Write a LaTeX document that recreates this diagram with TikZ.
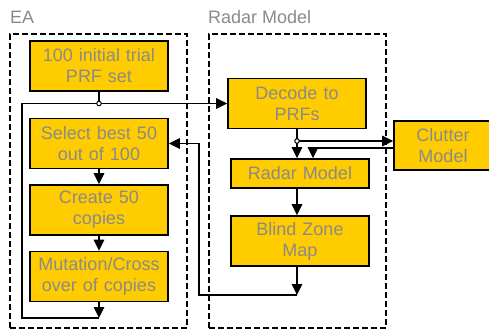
\documentclass[tikz,border=0pt]{standalone}
\usepackage{fontspec}
\setmainfont{Liberation Sans}
\usetikzlibrary{arrows.meta}
\definecolor{boxfill}{RGB}{255,204,0}
\definecolor{txt}{RGB}{138,138,138}
\begin{document}
\begin{tikzpicture}[x=1pt,y=-1pt,
  box/.style={draw=black,line width=1.6pt,fill=boxfill,text=txt,font=\fontsize{18}{21}\selectfont,align=center,inner sep=0pt,minimum width=138pt,minimum height=50pt,text width=136pt},
  grp/.style={draw=black,line width=1.4pt,dash pattern=on 6pt off 3pt,inner sep=0pt},
  conn/.style={line width=1.3pt},
  arr/.style={conn,-{Triangle[length=11pt,width=10.5pt]}},
  jdot/.style={circle,draw=black,fill=white,line width=1pt,inner sep=0pt,minimum size=4.5pt},
  lbl/.style={text=txt,font=\fontsize{18}{21}\selectfont,inner sep=0pt}]
\useasboundingbox (0,0) rectangle (489,330);
\clip (0,0) rectangle (489,330);
% groups
\node[grp,minimum width=177pt,minimum height=294pt] (eagrp) at (98.5,181) {};
\node[grp,minimum width=177pt,minimum height=294pt] (radgrp) at (297.5,181) {};
\node[lbl,anchor=base west] (ealbl) at (10,23) {EA};
\node[lbl,anchor=base west] (radlbl) at (208,23) {Radar Model};
% EA boxes
\node[box] (b1) at (99,66) {100 initial trial\\PRF set};
\node[box] (b2) at (99,143.5) {Select best 50\\out of 100};
\node[box] (b3) at (99,210) {Create 50\\copies};
\node[box] (b4) at (99,276.5) {Mutation/Cross\\over of copies};
% radar boxes
\node[box] (dec) at (297,103.5) {Decode to\\PRFs};
\node[box,minimum height=29pt] (rm) at (300,173.5) {Radar Model};
\node[box] (bz) at (300,241) {Blind Zone\\Map};
\node[box,minimum width=98pt,text width=96pt,minimum height=49pt] (cl) at (443,145.5) {Clutter\\Model};
% coordinates
\coordinate (j1) at (99,103.5);
\coordinate (lb) at (99,318);
\coordinate (j2) at (297,141);
\coordinate (fb) at (297,295);
\coordinate (cr) at (313,148);
% EA connectors
\draw[conn] (b1.south) -- (j1);
\draw[arr] (b2.south) -- (b3.north);
\draw[arr] (b3.south) -- (b4.north);
\draw[arr] (b4.south) -- (lb);
\draw[arr] (lb) -- (22,318) -- (22,103.5) -- (dec.west);
% radar connectors
\draw[arr] (dec.south) -- (dec.south |- rm.north);
\draw[arr] (j2) -- (j2 -| cl.west);
\draw[conn] (cl.west |- cr) -- (cr);
\draw[arr] (cr) -- (cr |- rm.north);
\draw[arr] (dec.south |- rm.south) -- (dec.south |- bz.north);
\draw[arr] (dec.south |- bz.south) -- (fb);
\draw[arr] (fb) -- (199,295) -- (199,143.5) -- (b2.east);
% junction dots
\node[jdot] (jd1) at (j1) {};
\node[jdot] (jd2) at (j2) {};
\end{tikzpicture}
\end{document}
